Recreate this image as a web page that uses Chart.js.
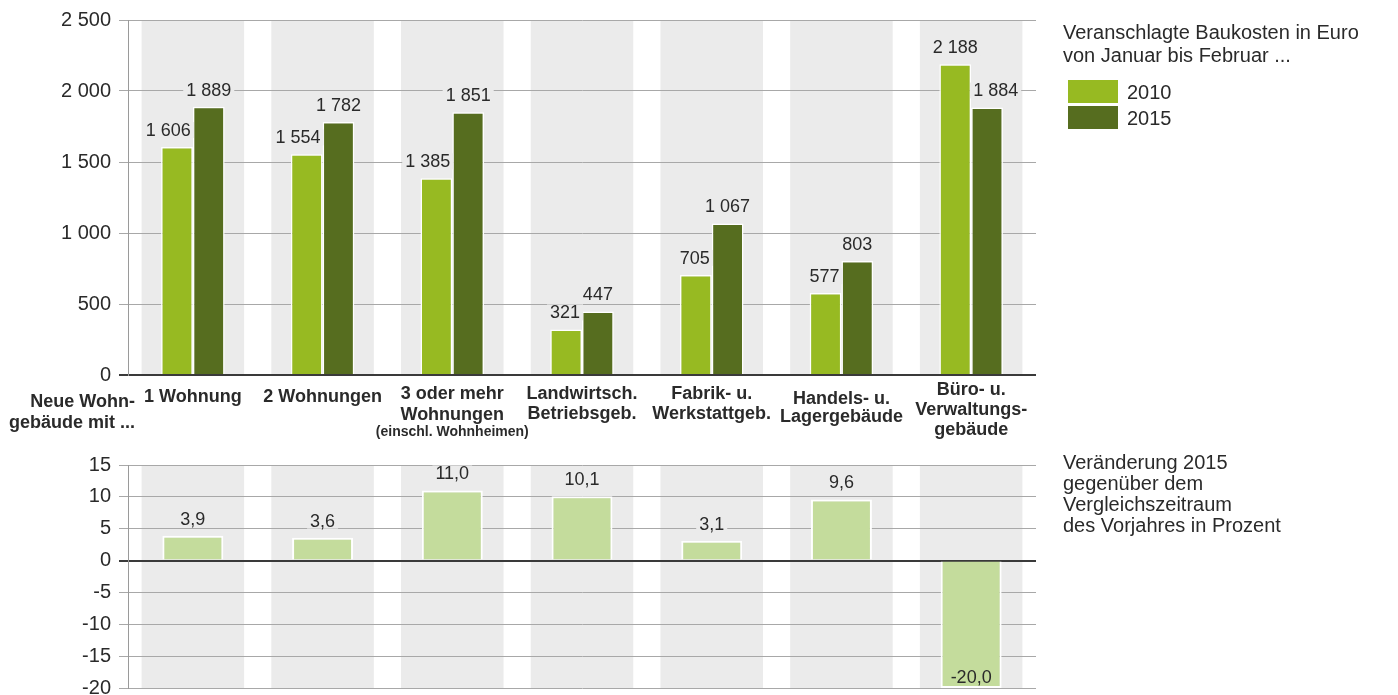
<!DOCTYPE html>
<html>
<head>
<meta charset="utf-8">
<script src="https://cdn.jsdelivr.net/npm/chart.js@4.4.1/dist/chart.umd.min.js"></script>
<style>
  html, body { margin: 0; padding: 0; background: #fff; overflow: hidden; }
  body { width: 1398px; height: 695px; position: relative; font-family: "Liberation Sans", Arial, Helvetica, sans-serif; color: #2a2a2a; }
  canvas { position: absolute; left: 0; }
  .note { position: absolute; left: 1063px; font-size: 20px; line-height: 23px; white-space: nowrap; }
  .key { position: absolute; left: 1068px; width: 50px; height: 23px; }
  .keytxt { position: absolute; left: 1127px; font-size: 20px; line-height: 24px; }
</style>
</head>
<body>
<canvas id="costChart" width="1398" height="445" style="top:0"></canvas>
<canvas id="changeChart" width="1398" height="270" style="top:440px"></canvas>

<div class="note" style="top:21px">Veranschlagte Baukosten in Euro<br>von Januar bis Februar ...</div>
<div id="legendBox"></div>
<div class="note" style="top:452px; line-height:21px">Veränderung 2015<br>gegenüber dem<br>Vergleichszeitraum<br>des Vorjahres in Prozent</div>

<script>
// ---- data ----
var categories = [
    ['1 Wohnung'],
    ['2 Wohnungen'],
    ['3 oder mehr', 'Wohnungen', '(einschl. Wohnheimen)'],
    ['Landwirtsch.', 'Betriebsgeb.'],
    ['Fabrik- u.', 'Werkstattgeb.'],
    ['Handels- u.', 'Lagergebäude'],
    ['Büro- u.', 'Verwaltungs-', 'gebäude']
];
var rowTitle = ['Neue Wohn-', 'gebäude mit ...'];
var seriesNames = ['2010', '2015'];
var costs2010 = [1606, 1554, 1385, 321, 705, 577, 2188];
var costs2015 = [1889, 1782, 1851, 447, 1067, 803, 1884];
var changePct = [3.9, 3.6, 11.0, 10.1, 3.1, 9.6, -20.0];
var costTicks = [0, 500, 1000, 1500, 2000, 2500];
var changeTicks = [-20, -15, -10, -5, 0, 5, 10, 15];

// ---- styles ----
var FONT = '"Liberation Sans", Arial, Helvetica, sans-serif';
var colors = ['#97ba22', '#566d1f'];
var changeColor = '#c4dc9c';
var bandColor = '#ebebeb';
var gridColor = '#a8a8a8';
var textColor = '#2a2a2a';

// label rows under the top chart (first line y, line gap)
var labelTop = [397, 397, 394, 394, 394, 399, 390];
var labelGap = [20, 20, 21, 20, 20, 18, 20];

function thousands(v) {
    return String(v).replace(/\B(?=(\d{3})+(?!\d))/g, ' ');
}
function decimal(v) {
    return v.toFixed(1).replace('.', ',');
}

// gray column bands behind every category
var bandPlugin = {
    id: 'bands',
    beforeDraw: function (chart) {
        var ctx = chart.ctx, area = chart.chartArea, x = chart.scales.x;
        var w = x.width / categories.length * 0.79;
        ctx.save();
        ctx.fillStyle = bandColor;
        for (var i = 0; i < categories.length; i++) {
            var cx = x.getPixelForValue(i);
            ctx.fillRect(cx - w / 2, area.top, w, area.bottom - area.top);
        }
        ctx.restore();
    }
};

// value labels on top of the bars, pushed aside when the neighbour bar is taller
function valueLabels(fmt) {
    return {
        id: 'values',
        afterDatasetsDraw: function (chart) {
            var ctx = chart.ctx;
            var n = chart.data.datasets.length;
            ctx.save();
            ctx.font = '18px ' + FONT;
            ctx.textAlign = 'center';
            ctx.textBaseline = 'middle';
            chart.data.datasets.forEach(function (ds, di) {
                chart.getDatasetMeta(di).data.forEach(function (bar, i) {
                    var v = ds.data[i];
                    var txt = fmt(v);
                    var tw = ctx.measureText(txt).width;
                    var y = v >= 0 ? bar.y - 17 : bar.y - 11;
                    var x = bar.x;
                    if (n === 2) {
                        var other = chart.data.datasets[1 - di].data[i];
                        if (other > v) {
                            if (di === 0) x = Math.min(x, bar.x + bar.width / 2 - tw / 2 - 2);
                            else x = Math.max(x, bar.x - bar.width / 2 + tw / 2 + 2);
                        }
                    }
                    if (v >= 0) {
                        ctx.fillStyle = bandColor;
                        ctx.fillRect(x - tw / 2 - 3, y - 8, tw + 6, 16);
                    }
                    ctx.fillStyle = textColor;
                    ctx.fillText(txt, x, y + 1);
                });
            });
            ctx.restore();
        }
    };
}

// category names below the top chart
var categoryPlugin = {
    id: 'categoryNames',
    afterDraw: function (chart) {
        var ctx = chart.ctx, x = chart.scales.x;
        ctx.save();
        ctx.fillStyle = textColor;
        ctx.textBaseline = 'middle';
        ctx.textAlign = 'center';
        categories.forEach(function (lines, i) {
            var cx = x.getPixelForValue(i);
            lines.forEach(function (line, j) {
                var small = line.charAt(0) === '(';
                ctx.font = 'bold ' + (small ? 14 : 18) + 'px ' + FONT;
                var y = labelTop[i] + j * labelGap[i] - (small ? 4 : 0);
                ctx.fillText(line, cx, y);
            });
        });
        ctx.textAlign = 'right';
        ctx.font = 'bold 18px ' + FONT;
        rowTitle.forEach(function (line, j) {
            ctx.fillText(line, 135, 402 + j * 21);
        });
        ctx.restore();
    }
};

function yScale(ticks) {
    return {
        min: ticks[0],
        max: ticks[ticks.length - 1],
        afterFit: function (scale) { scale.width = 128; },
        afterBuildTicks: function (scale) {
            scale.ticks = ticks.map(function (v) { return { value: v }; });
        },
        ticks: {
            padding: 8,
            color: textColor,
            font: { family: FONT, size: 20 },
            callback: function (v) { return thousands(v); }
        },
        grid: {
            tickLength: 9,
            color: function (c) { return c.tick && c.tick.value === 0 ? '#3a3a3a' : gridColor; },
            lineWidth: function (c) { return c.tick && c.tick.value === 0 ? 2 : 1; }
        },
        border: { display: true, color: '#9a9a9a', width: 1 }
    };
}

var names = categories.map(function (c) { return c.join(' '); });

new Chart(document.getElementById('costChart'), {
    type: 'bar',
    data: {
        labels: names,
        datasets: [
            { label: seriesNames[0], data: costs2010, backgroundColor: colors[0], borderColor: '#fff', borderWidth: 1.5, borderSkipped: 'bottom' },
            { label: seriesNames[1], data: costs2015, backgroundColor: colors[1], borderColor: '#fff', borderWidth: 1.5, borderSkipped: 'bottom' }
        ]
    },
    options: {
        responsive: false,
        animation: false,
        devicePixelRatio: 1,
        categoryPercentage: 0.49,
        barPercentage: 1,
        layout: { padding: { top: 20, right: 362, bottom: 70, left: 0 } },
        plugins: { legend: { display: false }, tooltip: { enabled: false } },
        scales: {
            x: { display: false },
            y: yScale(costTicks)
        }
    },
    plugins: [bandPlugin, valueLabels(thousands), categoryPlugin]
});

new Chart(document.getElementById('changeChart'), {
    type: 'bar',
    data: {
        labels: names,
        datasets: [
            { label: 'Veränderung', data: changePct, backgroundColor: changeColor, borderColor: '#fff', borderWidth: 2, borderSkipped: 'start' }
        ]
    },
    options: {
        responsive: false,
        animation: false,
        devicePixelRatio: 1,
        categoryPercentage: 0.47,
        barPercentage: 1,
        layout: { padding: { top: 25, right: 362, bottom: 22, left: 0 } },
        plugins: { legend: { display: false }, tooltip: { enabled: false } },
        scales: {
            x: { display: false },
            y: yScale(changeTicks)
        }
    },
    plugins: [bandPlugin, valueLabels(decimal)]
});

// legend keys
var box = document.getElementById('legendBox');
seriesNames.forEach(function (name, i) {
    var top = 80 + i * 26;
    box.innerHTML += '<div class="key" style="top:' + top + 'px;background:' + colors[i] + '"></div>' +
        '<div class="keytxt" style="top:' + top + 'px">' + name + '</div>';
});
</script>
</body>
</html>
